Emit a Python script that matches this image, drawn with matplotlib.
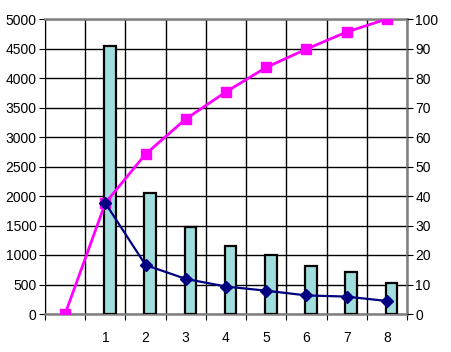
import matplotlib.pyplot as plt

plt.rcParams['font.family'] = ['Liberation Sans', 'DejaVu Sans']

# data
categories = ['', '1', '2', '3', '4', '5', '6', '7', '8']
counts = [4550, 2050, 1480, 1155, 1000, 815, 718, 522]
share_pct = [37.6, 16.6, 11.9, 9.3, 7.9, 6.3, 5.9, 4.4]
cumulative_pct = [0, 37.6, 54.2, 66.1, 75.3, 83.6, 89.8, 95.6, 100]

fig = plt.figure(figsize=(4.52, 3.52), dpi=100)
ax = fig.add_axes([45 / 452, 38 / 352, 362 / 452, 295 / 352])

pos = list(range(len(categories)))
bar_pos = [p - 0.03 for p in pos[1:]]
ax.bar(bar_pos, counts, width=0.29, align='edge', color='#a0dede',
       edgecolor='black', linewidth=1.6, zorder=3)

ax.set_xlim(-0.5, len(categories) - 0.5)
ax.set_ylim(0, 5000)
ax.set_yticks(range(0, 5001, 500))
ax.set_xticks([p - 0.5 for p in pos] + [len(pos) - 0.5])
ax.set_xticklabels([])
ax.set_xticks(pos, minor=True)
ax.set_xticklabels(categories, minor=True)
ax.tick_params(axis='x', which='minor', length=0, pad=12, labelsize=10)
ax.tick_params(axis='x', which='major', length=4, direction='out', color='black')
ax.tick_params(axis='y', length=4, labelsize=10, pad=2)
ax.grid(True, which='major', color='black', linewidth=1.0, zorder=0)
ax.set_axisbelow(True)

for s in ['top', 'bottom', 'right']:
    ax.spines[s].set_color('#808080')
    ax.spines[s].set_linewidth(1.8)
ax.spines['left'].set_color('black')

ax2 = ax.twinx()
ax2.set_ylim(0, 100)
ax2.set_yticks(range(0, 101, 10))
ax2.tick_params(axis='y', length=4, labelsize=10, pad=2)
ax2.plot(pos, cumulative_pct, color='#ff00ff', linewidth=2, marker='s',
         markersize=7, zorder=4)
ax2.plot(pos[1:], share_pct, color='#000080', linewidth=1.6, marker='D',
         markersize=6, zorder=5)
for s in ['top', 'bottom', 'right', 'left']:
    ax2.spines[s].set_visible(False)

fig.savefig('out.png', dpi=100)
